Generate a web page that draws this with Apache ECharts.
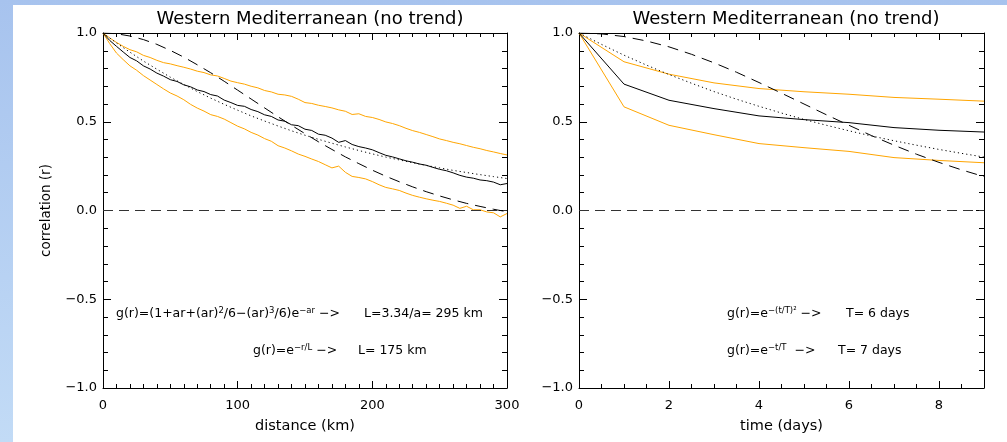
<!DOCTYPE html>
<html>
<head>
<meta charset="utf-8">
<title>Western Mediterranean (no trend)</title>
<script src="https://cdn.jsdelivr.net/npm/echarts@6/dist/echarts.min.js"></script>
<style>
html, body { margin: 0; padding: 0; background: #fff; }
#chart { width: 1007px; height: 442px; }
</style>
</head>
<body>
<div id="chart"></div>
<script>
// ---- spatial correlation, one sample every 5 km ----
var distKm = [];
for (var i = 0; i <= 60; i++) distKm.push(i * 5);

var distMean = [1.000, 0.958, 0.925, 0.893, 0.862, 0.843, 0.815, 0.797, 0.774, 0.757,
    0.737, 0.727, 0.708, 0.697, 0.679, 0.670, 0.653, 0.645, 0.622, 0.608,
    0.592, 0.587, 0.569, 0.557, 0.539, 0.530, 0.510, 0.503, 0.483, 0.478,
    0.458, 0.451, 0.430, 0.424, 0.408, 0.384, 0.394, 0.372, 0.360, 0.352,
    0.342, 0.326, 0.311, 0.302, 0.291, 0.280, 0.272, 0.262, 0.255, 0.243,
    0.232, 0.224, 0.212, 0.198, 0.188, 0.182, 0.172, 0.168, 0.160, 0.145, 0.152];
var distUpper = [1.000, 0.972, 0.947, 0.925, 0.906, 0.894, 0.874, 0.862, 0.846, 0.833,
    0.826, 0.816, 0.807, 0.797, 0.785, 0.777, 0.764, 0.758, 0.744, 0.729,
    0.720, 0.712, 0.700, 0.691, 0.676, 0.668, 0.655, 0.651, 0.643, 0.627,
    0.608, 0.603, 0.593, 0.586, 0.578, 0.567, 0.559, 0.541, 0.545, 0.530,
    0.524, 0.513, 0.499, 0.490, 0.478, 0.463, 0.450, 0.440, 0.428, 0.416,
    0.403, 0.394, 0.384, 0.376, 0.366, 0.356, 0.348, 0.338, 0.330, 0.321, 0.313];
var distLower = [1.000, 0.940, 0.887, 0.850, 0.815, 0.790, 0.760, 0.735, 0.710, 0.685,
    0.662, 0.645, 0.624, 0.598, 0.577, 0.560, 0.540, 0.530, 0.515, 0.495,
    0.475, 0.460, 0.440, 0.425, 0.405, 0.390, 0.365, 0.352, 0.336, 0.318,
    0.305, 0.290, 0.276, 0.258, 0.240, 0.250, 0.215, 0.192, 0.186, 0.178,
    0.163, 0.145, 0.130, 0.122, 0.113, 0.098, 0.085, 0.075, 0.066, 0.058,
    0.051, 0.041, 0.030, 0.012, 0.024, 0.004, 0.004, -0.008, -0.013, -0.036, -0.017];

// fitted curves, read every 10 km
var fitKm = [0, 10, 20, 30, 40, 50, 60, 70, 80, 90, 100, 110, 120, 130, 140, 150,
    160, 170, 180, 190, 200, 210, 220, 230, 240, 250, 260, 270, 280, 290, 300];
var fitKmExp = [1.000, 0.944, 0.892, 0.842, 0.796, 0.751, 0.710, 0.670, 0.633, 0.598,
    0.565, 0.533, 0.504, 0.476, 0.449, 0.424, 0.401, 0.379, 0.358, 0.338,
    0.319, 0.301, 0.285, 0.269, 0.254, 0.240, 0.226, 0.214, 0.202, 0.191, 0.180];
var fitKmPoly = [1.000, 0.996, 0.983, 0.963, 0.936, 0.902, 0.864, 0.821, 0.776, 0.728,
    0.678, 0.628, 0.578, 0.528, 0.480, 0.433, 0.387, 0.344, 0.302, 0.264,
    0.227, 0.193, 0.162, 0.133, 0.106, 0.082, 0.060, 0.040, 0.023, 0.007, -0.007];

// ---- temporal correlation, one sample per day ----
var days = [0, 1, 2, 3, 4, 5, 6, 7, 8, 9];
var timeMean  = [1.000, 0.712, 0.621, 0.574, 0.533, 0.512, 0.495, 0.467, 0.452, 0.442];
var timeUpper = [1.000, 0.838, 0.768, 0.719, 0.687, 0.669, 0.655, 0.637, 0.627, 0.616];
var timeLower = [1.000, 0.584, 0.480, 0.427, 0.377, 0.354, 0.333, 0.298, 0.282, 0.269];

var fitDays = [0, 0.5, 1, 1.5, 2, 2.5, 3, 3.5, 4, 4.5, 5, 5.5, 6, 6.5, 7, 7.5, 8, 8.5, 9];
var fitDaysGauss = [1.000, 0.995, 0.980, 0.955, 0.922, 0.880, 0.832, 0.779, 0.721, 0.661,
    0.600, 0.539, 0.480, 0.422, 0.368, 0.317, 0.271, 0.229, 0.191];
var fitDaysExp = [1.000, 0.936, 0.875, 0.819, 0.766, 0.717, 0.670, 0.627, 0.587, 0.549,
    0.513, 0.480, 0.449, 0.420, 0.393, 0.368, 0.344, 0.322, 0.301];

var titleText = 'Western Mediterranean (no trend)';
var orange = '#ffa500';
var font = 'DejaVu Sans';

function pairs(xs, ys) {
    return xs.map(function (x, i) { return [x, ys[i]]; });
}
function corrLabel(v) {
    return (v < 0 ? '\u2212' : '') + Math.abs(v).toFixed(1);
}

// one frame = bottom/left axes with labels + top/right mirrors, ticks inside
function xAxes(grid, max, interval, minorSplit, name, showMax) {
    var base = {
        type: 'value', gridIndex: grid, min: 0, max: max, interval: interval,
        axisLine: { show: true, onZero: false, lineStyle: { color: '#000', width: 1 } },
        axisTick: { show: true, inside: true, length: 7, lineStyle: { color: '#000' } },
        minorTick: { show: true, splitNumber: minorSplit, length: 4, lineStyle: { color: '#000' } },
        splitLine: { show: false }
    };
    var bottom = echarts.util.merge({
        position: 'bottom', name: name, nameLocation: 'middle', nameGap: 31,
        nameTextStyle: { fontFamily: font, fontSize: 14.5, color: '#000' },
        axisLabel: { fontFamily: font, fontSize: 13, color: '#000', margin: 11, showMaxLabel: showMax }
    }, base, true);
    var top = echarts.util.merge({ position: 'top', axisLabel: { show: false } }, base, true);
    return [bottom, top];
}
function yAxes(grid, withName) {
    var base = {
        type: 'value', gridIndex: grid, min: -1, max: 1, interval: 0.5,
        axisLine: { show: true, onZero: false, lineStyle: { color: '#000', width: 1 } },
        axisTick: { show: true, inside: true, length: 8, lineStyle: { color: '#000' } },
        minorTick: { show: true, splitNumber: 5, length: 5, lineStyle: { color: '#000' } },
        splitLine: { show: false }
    };
    var left = echarts.util.merge({
        position: 'left',
        axisLabel: { fontFamily: font, fontSize: 13, color: '#000', margin: 6, formatter: corrLabel }
    }, base, true);
    if (withName) {
        left.name = 'correlation (r)';
        left.nameLocation = 'middle';
        left.nameGap = 50;
        left.nameTextStyle = { fontFamily: font, fontSize: 13.5, color: '#000' };
    }
    var right = echarts.util.merge({ position: 'right', axisLabel: { show: false } }, base, true);
    return [left, right];
}

function line(xi, yi, data, color, type, z) {
    return {
        type: 'line', xAxisIndex: xi, yAxisIndex: yi, data: data,
        symbol: 'none', silent: true, animation: false, z: z || 2,
        lineStyle: { color: color, width: 1, type: type || 'solid' }
    };
}
function zeroLine(s) {
    s.markLine = {
        silent: true, symbol: 'none', animation: false, label: { show: false },
        lineStyle: { color: '#333', width: 1, type: [10, 6] },
        data: [{ yAxis: 0 }]
    };
    return s;
}

var rich = {
    n: { fontFamily: font, fontSize: 12.5, lineHeight: 14, verticalAlign: 'bottom', fill: '#000' },
    s: { fontFamily: font, fontSize: 8.5, lineHeight: 11, verticalAlign: 'top', fill: '#000' }
};
function note(x, y, text) {
    return {
        type: 'text', x: x, y: y, silent: true,
        style: { text: text, fill: '#000', verticalAlign: 'middle', rich: rich }
    };
}

var chart = echarts.init(document.getElementById('chart'));
var xs = xAxes(0, 300, 100, 10, 'distance (km)', true).concat(xAxes(1, 9, 2, 4, 'time (days)', false));
var ys = yAxes(0, true).concat(yAxes(1, false));

chart.setOption({
    animation: false,
    backgroundColor: '#fff',
    graphic: [
        {
            type: 'rect', shape: { x: 0, y: 0, width: 1007, height: 442 }, silent: true, z: -10,
            style: { fill: new echarts.graphic.LinearGradient(0, 0, 0, 1, [
                { offset: 0, color: '#a7c3ee' }, { offset: 1, color: '#c2dbf6' }]) }
        },
        {
            type: 'rect', shape: { x: 13, y: 5, width: 994, height: 437 }, silent: true, z: -9,
            style: { fill: '#fff' }
        },
        note(116, 313, '{n|g(r)=(1+ar+(ar)}{s|2}{n|/6\u2212(ar)}{s|3}{n|/6)e}{s|\u2212ar}{n| \u2212>}'),
        note(364, 313, '{n|L=3.34/a= 295 km}'),
        note(253, 350, '{n|g(r)=e}{s|\u2212r/L}{n| \u2212>}'),
        note(358, 350, '{n|L= 175 km}'),
        note(727, 313, '{n|g(r)=e}{s|\u2212(t/T)\u00b2}{n| \u2212>}'),
        note(846, 313, '{n|T= 6 days}'),
        note(727, 350, '{n|g(r)=e}{s|\u2212t/T}{n|  \u2212>}'),
        note(838, 350, '{n|T= 7 days}')
    ],
    title: [
        { text: titleText, left: 305, top: 5, textAlign: 'center',
          textStyle: { fontFamily: font, fontSize: 18, fontWeight: 'normal', color: '#000' } },
        { text: titleText, left: 781, top: 5, textAlign: 'center',
          textStyle: { fontFamily: font, fontSize: 18, fontWeight: 'normal', color: '#000' } }
    ],
    grid: [
        { left: 103, top: 33, width: 404, height: 355, containLabel: false },
        { left: 579, top: 33, width: 405, height: 355, containLabel: false }
    ],
    xAxis: xs,
    yAxis: ys,
    series: [
        zeroLine(line(0, 0, pairs(distKm, distMean), '#000', 'solid', 5)),
        line(0, 0, pairs(distKm, distUpper), orange),
        line(0, 0, pairs(distKm, distLower), orange),
        line(0, 0, pairs(fitKm, fitKmExp), '#000', [1.2, 3]),
        line(0, 0, pairs(fitKm, fitKmPoly), '#000', [11, 7]),

        zeroLine(line(2, 2, pairs(days, timeMean), '#000', 'solid', 5)),
        line(2, 2, pairs(days, timeUpper), orange),
        line(2, 2, pairs(days, timeLower), orange),
        line(2, 2, pairs(fitDays, fitDaysExp), '#000', [1.2, 3]),
        line(2, 2, pairs(fitDays, fitDaysGauss), '#000', [11, 7])
    ]
});
</script>
</body>
</html>
